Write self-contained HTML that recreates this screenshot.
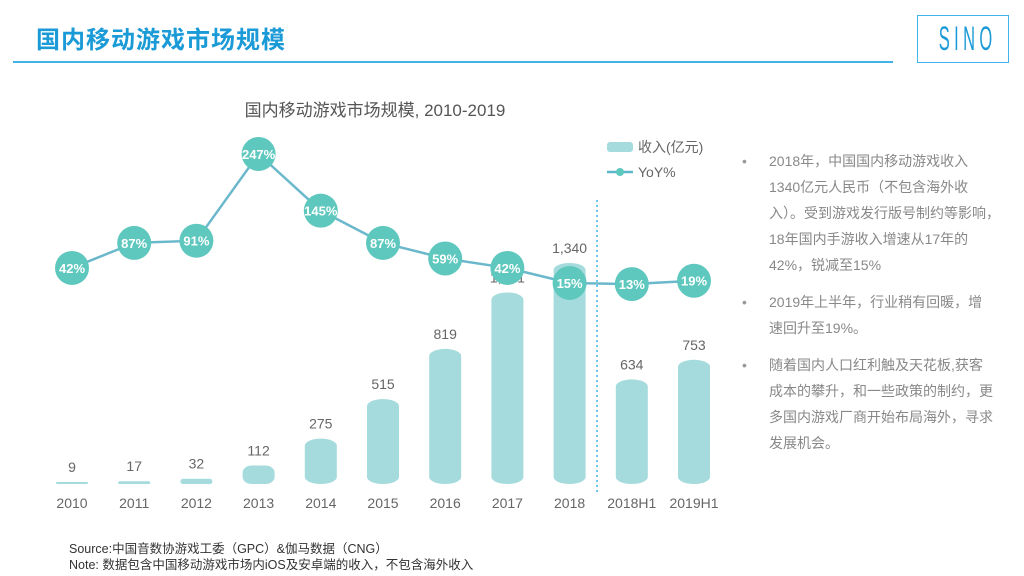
<!DOCTYPE html>
<html><head><meta charset="utf-8"><style>
body{margin:0;width:1024px;height:576px;background:#fff;position:relative;overflow:hidden;font-family:"Liberation Sans","Noto Sans CJK SC",sans-serif}
.abs{position:absolute}
#title{left:36px;top:20px;font-size:24px;font-weight:bold;color:#1a9ad6;letter-spacing:1px}
#rule{left:13px;top:61px;width:880px;height:2px;background:#3fb3ea}
#logo{left:917px;top:15px;width:92px;height:48px;border:1px solid #3fb3ea;box-sizing:border-box;overflow:hidden}
#logo span{position:absolute;left:0;width:92px;top:4px;text-align:center;color:#1a9ad6;font-size:30px;line-height:34px;letter-spacing:8px;transform:scaleX(0.55) scaleY(1.15);transform-origin:center top}
#bullets{left:742px;top:148px;width:280px;color:#888;font-size:14px;line-height:26px;white-space:nowrap}
.b{position:relative;padding-left:27px;margin-bottom:11px}
.b:before{content:"•";position:absolute;left:0;color:#999}
#foot{left:69px;top:541px;font-size:12.5px;color:#333;line-height:16px}
</style></head><body>
<div id="title" class="abs">国内移动游戏市场规模</div>
<div id="rule" class="abs"></div>
<div id="logo" class="abs"><span>SINO</span></div>
<svg class="abs" style="left:0;top:0" width="1024" height="576">
<text x="375" y="116" font-size="17" fill="#555" text-anchor="middle">国内移动游戏市场规模, 2010-2019</text>
<line x1="597" y1="200" x2="597" y2="492" stroke="#3fb3ea" stroke-width="1.5" stroke-dasharray="2,3"/>
<g id="bars"></g><g id="line"></g>
<rect x="607" y="142" width="26" height="10" rx="3" fill="#a5dbdc"/>
<text x="638" y="152" font-size="14" fill="#666">收入(亿元)</text>
<line x1="607" y1="172" x2="633" y2="172" stroke="#5bb8c8" stroke-width="2.5"/>
<circle cx="620" cy="172" r="4" fill="#5fc8be"/>
<text x="638" y="177" font-size="14" fill="#666">YoY%</text>
</svg>
<div id="bullets" class="abs">
<div class="b">2018年，中国国内移动游戏收入<br>1340亿元人民币（不包含海外收<br>入）。受到游戏发行版号制约等影响，<br>18年国内手游收入增速从17年的<br>42%，锐减至15%</div>
<div class="b">2019年上半年，行业稍有回暖，增<br>速回升至19%。</div>
<div class="b">随着国内人口红利触及天花板,获客<br>成本的攀升，和一些政策的制约，更<br>多国内游戏厂商开始布局海外，寻求<br>发展机会。</div>
</div>
<div id="foot" class="abs">Source:中国音数协游戏工委（GPC）&amp;伽马数据（CNG）<br>Note: 数据包含中国移动游戏市场内iOS及安卓端的收入，不包含海外收入</div>
<script>
const categories=["2010","2011","2012","2013","2014","2015","2016","2017","2018","2018H1","2019H1"];
const revenue=[9,17,32,112,275,515,819,1161,1340,634,753];
const revenueLabels=["9","17","32","112","275","515","819","1,161","1,340","634","753"];
const yoy=[42,87,91,247,145,87,59,42,15,13,19];
const NS="http://www.w3.org/2000/svg";
const xS=i=>72+i*62.2;
const base=484;
const yBar=v=>base-v*221/1340;
const yLine=v=>291.3-v*0.556;
const bars=document.getElementById('bars'),lg=document.getElementById('line');
function mk(t,a,p){const e=document.createElementNS(NS,t);for(const k in a)e.setAttribute(k,a[k]);p.appendChild(e);return e;}
revenue.forEach((v,i)=>{
  const x=xS(i),top=yBar(v),h=Math.max(base-top,2),rx=Math.min(16,h/2),ry=Math.min(7,h/2);
  const r=mk('rect',{x:x-16,y:base-h,width:32,height:h,rx:rx,ry:ry,fill:'#a5dbdc'},bars);
  
  
  const t=mk('text',{x:x,y:base-h-10,'font-size':14,fill:'#666','text-anchor':'middle'},bars);t.textContent=revenueLabels[i];
  
  
  const c=mk('text',{x:x,y:508,'font-size':14,fill:'#666','text-anchor':'middle'},bars);c.textContent=categories[i];
  
  
});
const pl=mk('polyline',{points:yoy.map((v,i)=>xS(i)+','+yLine(v)).join(' '),fill:'none',stroke:'#6bb8cc','stroke-width':2.5},lg);


yoy.forEach((v,i)=>{
  const c=mk('circle',{cx:xS(i),cy:yLine(v),r:17,fill:'#5fc8be'},lg);
  
  
  const t=mk('text',{x:xS(i),y:yLine(v)+5,'font-size':13,'font-weight':'bold',fill:'#fff','text-anchor':'middle'},lg);t.textContent=v+'%';
  
  
});
</script>
</body></html>
